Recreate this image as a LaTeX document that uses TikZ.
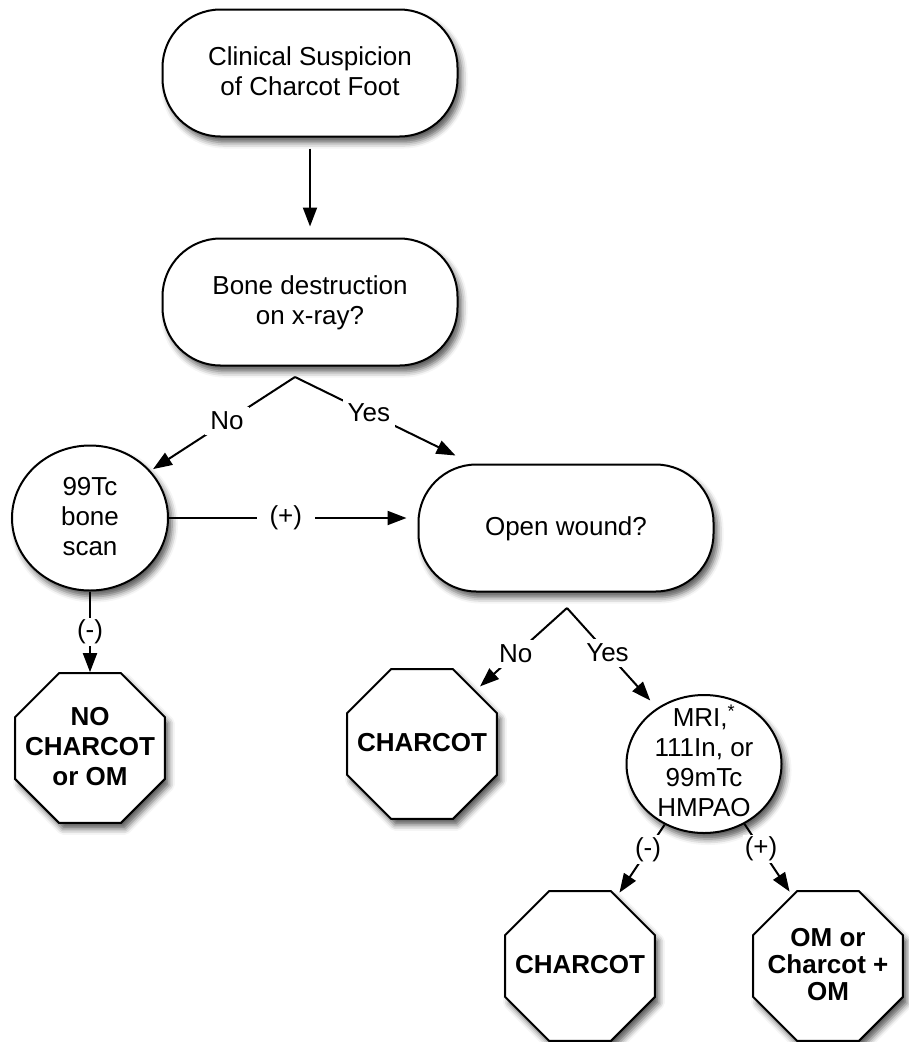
\documentclass[tikz,border=0pt]{standalone}
\usepackage{fontspec}
\setmainfont{Liberation Sans}
\usetikzlibrary{shapes.geometric,arrows.meta,shadows.blur}

% text stacked in lines, kept from growing the shape
\newcommand{\stk}[1]{\makebox[0pt]{\smash{\raisebox{-0.3em}{\begin{tabular}{@{}c@{}}#1\end{tabular}}}}}

\tikzset{
  base/.style={draw, line width=2pt, fill=white, inner sep=0pt,
    blur shadow={shadow xshift=4pt, shadow yshift=-6pt, shadow blur radius=6pt, shadow opacity=65}},
  stadium/.style={base, rectangle, rounded corners=58pt, minimum width=295pt, minimum height=127pt},
  scanbox/.style={base, ellipse},
  stopsign/.style={base, regular polygon, regular polygon sides=8, minimum size=162pt,
    font=\fontsize{26}{30}\selectfont\bfseries},
  line/.style={line width=2pt},
  arrow/.style={line, -{Triangle[length=19pt,width=14pt]}},
  lbl/.style={fill=white, inner sep=5pt},
}

\begin{document}
\begin{tikzpicture}[x=1pt, y=-1pt, font=\fontsize{26}{30}\selectfont]
    \useasboundingbox (0,0) rectangle (909,1042);
    % questions
    \node[stadium] (susp) at (310,73) {\stk{Clinical Suspicion\\of Charcot Foot}};
    \node[stadium] (bone) at (310,302) {\stk{Bone destruction\\on x-ray?}};
    \node[stadium] (wound) at (566,528) {\stk{Open wound?}};
    % scans
    \node[scanbox, minimum width=156pt, minimum height=145pt] (scan) at (90,518) {\stk{99Tc\\bone\\scan}};
    \node[scanbox, minimum width=155pt, minimum height=138pt] (mri) at (704,764) {\stk{MRI,\textsuperscript{*}\\111In, or\\99mTc\\HMPAO}};
    % outcomes
    \node[stopsign] (nocharcot) at (90,748) {\stk{NO\\CHARCOT\\or OM}};
    \node[stopsign] (charcotA) at (422,744) {\stk{CHARCOT}};
    \node[stopsign] (charcotB) at (580,966) {\stk{CHARCOT}};
    \node[stopsign] (om) at (828,966) {\stk{OM or\\[-3pt]Charcot +\\[-3pt]OM}};

    \coordinate (bsplit) at (295,377);
    \coordinate (wsplit) at (567,608);

    \draw[arrow, shorten <=11pt, shorten >=11pt] (susp) -- (bone);
    \draw[arrow, shorten >=3pt] (bsplit) -- node[lbl, pos=.47] {No} (scan.38);
    \draw[arrow] (bsplit) -- node[lbl, pos=.46] {Yes} ([shift={(38pt,8pt)}]wound.north west);
    \draw[arrow, shorten >=11pt] (scan.east) -- node[lbl, pos=.47, inner xsep=13pt] {(+)} (scan.east -| wound.west);
    \draw[arrow] (scan.south) -- node[lbl, inner ysep=2pt] {(-)} (nocharcot.north);
    \draw[arrow, shorten >=6pt] (wsplit) -- node[lbl, pos=.56] {No} (charcotA.north east);
    \draw[arrow, shorten >=10pt] (wsplit) -- node[lbl, pos=.45] {Yes} (mri.130);
    \draw[arrow, shorten >=4pt] (mri.237) -- node[lbl, pos=.35, inner sep=2pt] {(-)} (charcotB.62);
    \draw[arrow, shorten >=4pt] (mri.304) -- node[lbl, pos=.35, inner sep=2pt] {(+)} (om.117);
\end{tikzpicture}
\end{document}
